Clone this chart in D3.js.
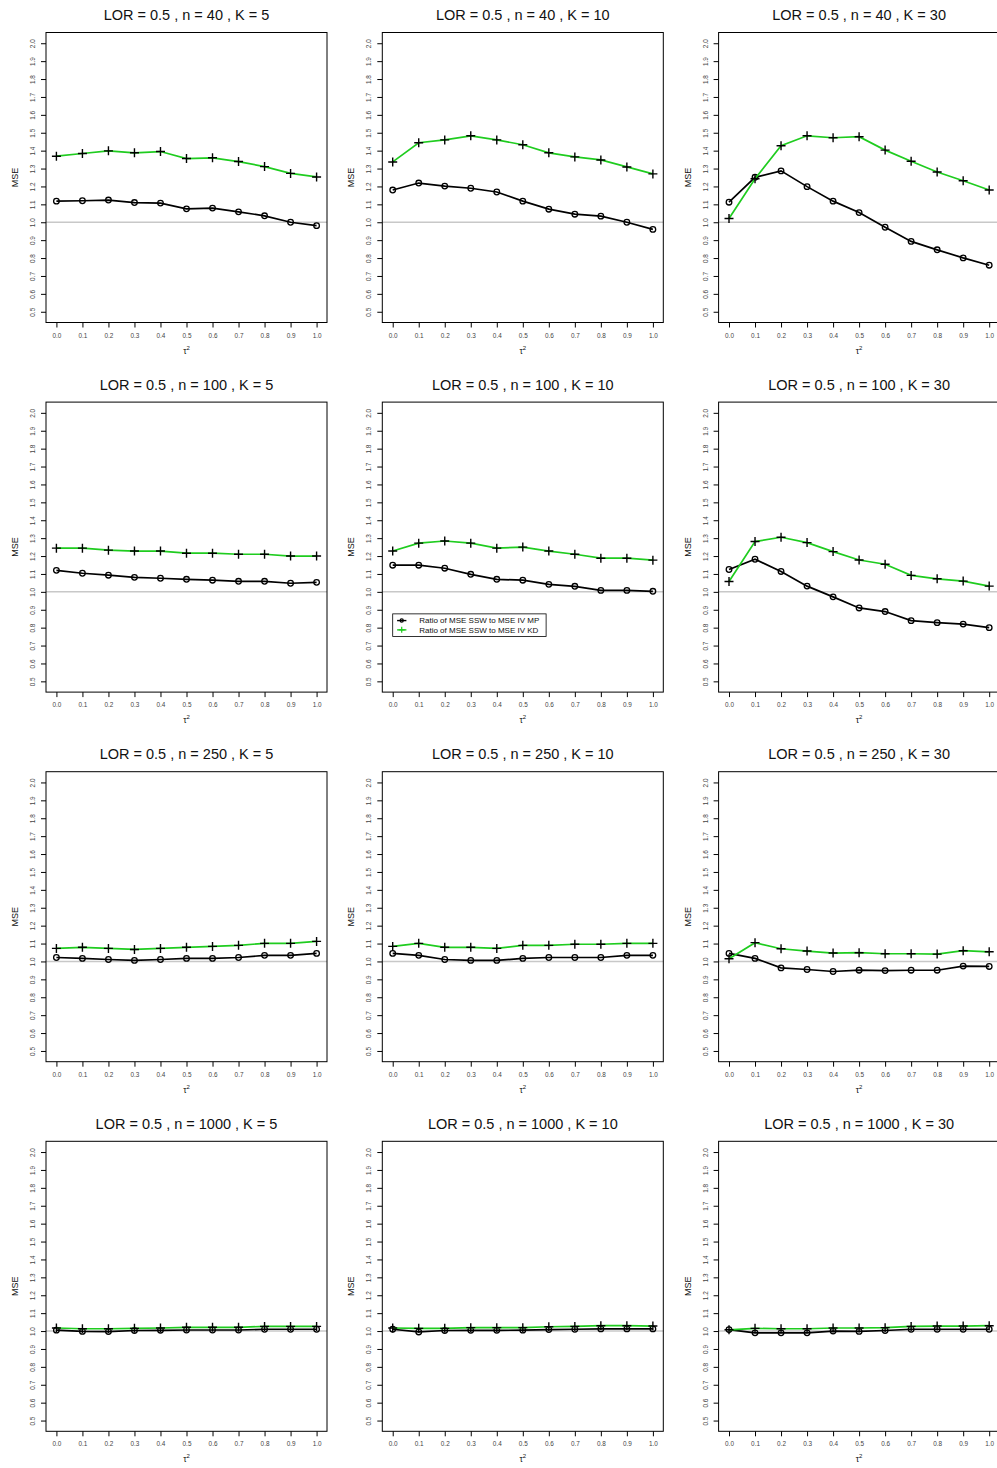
<!DOCTYPE html>
<html>
<head>
<meta charset="utf-8">
<script src="https://cdn.jsdelivr.net/npm/d3@7"></script>
<style>
  body { margin: 0; background: #fff; }
  text { font-family: "Liberation Sans", Arial, Helvetica, sans-serif; }
</style>
</head>
<body>
<script>
// tau^2 grid and the panel settings
var tau = [0.0, 0.1, 0.2, 0.3, 0.4, 0.5, 0.6, 0.7, 0.8, 0.9, 1.0];
var nValues = [40, 100, 250, 1000];
var kValues = [5, 10, 30];
var lorValue = 0.5;
var yTicks = [0.5, 0.6, 0.7, 0.8, 0.9, 1.0, 1.1, 1.2, 1.3, 1.4, 1.5, 1.6, 1.7, 1.8, 1.9, 2.0];
var legendLabels = ["Ratio of MSE SSW to MSE IV MP", "Ratio of MSE SSW to MSE IV KD"];

// ratio MSE SSW / MSE IV MP  (one row per K = 5, 10, 30)
var mp_n40 = [
  [1.118, 1.120, 1.124, 1.110, 1.107, 1.075, 1.079, 1.058, 1.036, 1.000, 0.981],
  [1.180, 1.219, 1.202, 1.190, 1.169, 1.118, 1.073, 1.045, 1.034, 1.000, 0.960],
  [1.112, 1.251, 1.287, 1.199, 1.118, 1.054, 0.972, 0.893, 0.846, 0.801, 0.760]
];
var mp_n100 = [
  [1.120, 1.104, 1.093, 1.081, 1.076, 1.070, 1.065, 1.059, 1.059, 1.048, 1.053],
  [1.149, 1.149, 1.132, 1.098, 1.070, 1.065, 1.042, 1.031, 1.008, 1.008, 1.003],
  [1.125, 1.182, 1.114, 1.032, 0.972, 0.910, 0.890, 0.839, 0.828, 0.820, 0.800]
];
var mp_n250 = [
  [1.022, 1.017, 1.011, 1.006, 1.011, 1.017, 1.017, 1.022, 1.034, 1.034, 1.045],
  [1.045, 1.034, 1.011, 1.006, 1.006, 1.017, 1.022, 1.022, 1.022, 1.034, 1.034],
  [1.045, 1.017, 0.964, 0.955, 0.944, 0.951, 0.949, 0.951, 0.951, 0.974, 0.972]
];
var mp_n1000 = [
  [1.005, 0.998, 0.997, 1.003, 1.004, 1.006, 1.006, 1.006, 1.010, 1.010, 1.010],
  [1.010, 0.995, 1.003, 1.004, 1.004, 1.005, 1.008, 1.010, 1.012, 1.012, 1.012],
  [1.008, 0.990, 0.990, 0.990, 1.000, 0.998, 1.003, 1.010, 1.010, 1.010, 1.010]
];

// ratio MSE SSW / MSE IV KD
var kd_n40 = [
  [1.369, 1.384, 1.399, 1.388, 1.395, 1.356, 1.360, 1.339, 1.311, 1.273, 1.253],
  [1.337, 1.444, 1.460, 1.483, 1.460, 1.433, 1.388, 1.365, 1.348, 1.309, 1.270],
  [1.021, 1.243, 1.427, 1.483, 1.472, 1.478, 1.403, 1.341, 1.281, 1.232, 1.180]
];
var kd_n100 = [
  [1.244, 1.244, 1.233, 1.228, 1.228, 1.216, 1.216, 1.210, 1.210, 1.200, 1.200],
  [1.228, 1.272, 1.284, 1.272, 1.244, 1.250, 1.228, 1.210, 1.188, 1.188, 1.177],
  [1.058, 1.281, 1.305, 1.275, 1.225, 1.178, 1.154, 1.092, 1.073, 1.060, 1.032]
];
var kd_n250 = [
  [1.073, 1.079, 1.073, 1.067, 1.073, 1.079, 1.084, 1.090, 1.101, 1.101, 1.112],
  [1.084, 1.101, 1.079, 1.079, 1.073, 1.090, 1.090, 1.096, 1.096, 1.101, 1.101],
  [1.015, 1.105, 1.071, 1.058, 1.047, 1.049, 1.043, 1.043, 1.041, 1.060, 1.054]
];
var kd_n1000 = [
  [1.017, 1.013, 1.013, 1.015, 1.017, 1.021, 1.021, 1.021, 1.026, 1.026, 1.026],
  [1.017, 1.015, 1.015, 1.019, 1.019, 1.019, 1.024, 1.026, 1.030, 1.030, 1.028],
  [1.007, 1.015, 1.013, 1.013, 1.017, 1.017, 1.019, 1.026, 1.028, 1.028, 1.030]
];

var mpRows = [mp_n40, mp_n100, mp_n250, mp_n1000];
var kdRows = [kd_n40, kd_n100, kd_n250, kd_n1000];

var green = "#1fcc1f";

// layout (pixels)
var boxW = 281, boxH = 290;
var left0 = 46, top0 = 32.5, colStep = 336.3, rowStep = 369.6;

var svg = d3.select("body").append("svg")
    .attr("width", 997)
    .attr("height", 1468);

function drawPlus(g, cx, cy, col) {
    var a = 4.5;
    g.append("path")
        .attr("d", "M" + (cx - a) + "," + cy + "H" + (cx + a) + "M" + cx + "," + (cy - a) + "V" + (cy + a))
        .attr("stroke", col)
        .attr("stroke-width", 1.4)
        .attr("fill", "none");
}

function drawCircle(g, cx, cy, col) {
    g.append("circle")
        .attr("cx", cx).attr("cy", cy).attr("r", 2.8)
        .attr("stroke", col)
        .attr("stroke-width", 1.3)
        .attr("fill", "none");
}

nValues.forEach(function (n, r) {
    kValues.forEach(function (k, c) {
        var bx = left0 + c * colStep,
            by = top0 + r * rowStep;
        var g = svg.append("g");

        var x = d3.scaleLinear().domain([-0.04, 1.04]).range([bx, bx + boxW]);
        var y = d3.scaleLinear().domain([0.44, 2.06]).range([by + boxH, by]);

        // title
        g.append("text")
            .attr("x", bx + boxW / 2)
            .attr("y", by - 12.5)
            .attr("text-anchor", "middle")
            .attr("font-size", "14.5px")
            .attr("fill", "#111")
            .text("LOR = " + lorValue + " , n = " + n + " , K = " + k);

        // y axis, labels parallel to axis
        var ya = g.append("g")
            .attr("transform", "translate(" + bx + ",0)")
            .call(d3.axisLeft(y).tickValues(yTicks).tickSize(5).tickFormat(d3.format(".1f")));
        ya.select(".domain").remove();
        ya.selectAll("text")
            .attr("x", null).attr("dy", null)
            .attr("transform", "translate(-11,0) rotate(-90)")
            .attr("text-anchor", "middle")
            .attr("font-size", "6.4px")
            .attr("fill", "#444");

        // x axis
        var xa = g.append("g")
            .attr("transform", "translate(0," + (by + boxH) + ")")
            .call(d3.axisBottom(x).tickValues(tau).tickSize(5).tickFormat(d3.format(".1f")));
        xa.select(".domain").remove();
        xa.selectAll("text")
            .attr("y", 10.5)
            .attr("font-size", "6.4px")
            .attr("fill", "#444");

        // axis titles
        g.append("text")
            .attr("transform", "translate(" + (bx - 28) + "," + (by + boxH / 2) + ") rotate(-90)")
            .attr("text-anchor", "middle")
            .attr("font-size", "9px")
            .attr("fill", "#111")
            .text("MSE");
        var tl = g.append("text")
            .attr("x", bx + boxW / 2)
            .attr("y", by + boxH + 31)
            .attr("text-anchor", "middle")
            .attr("font-size", "8.5px")
            .attr("fill", "#111");
        tl.append("tspan").text("\u03C4");
        tl.append("tspan").attr("dy", "-4").attr("font-size", "6px").text("2");

        // reference line at 1
        g.append("line")
            .attr("x1", bx).attr("x2", bx + boxW)
            .attr("y1", y(1)).attr("y2", y(1))
            .attr("stroke", "#c8c8c8")
            .attr("stroke-width", 1.5);

        var mp = mpRows[r][c], kd = kdRows[r][c];
        var line = d3.line()
            .x(function (d, i) { return x(tau[i]); })
            .y(function (d) { return y(d); });

        g.append("path").attr("d", line(mp))
            .attr("fill", "none").attr("stroke", "#000").attr("stroke-width", 1.7);
        mp.forEach(function (v, i) { drawCircle(g, x(tau[i]), y(v), "#000"); });

        g.append("path").attr("d", line(kd))
            .attr("fill", "none").attr("stroke", green).attr("stroke-width", 1.7);
        kd.forEach(function (v, i) { drawPlus(g, x(tau[i]), y(v), "#000"); });

        // box
        g.append("rect")
            .attr("x", bx).attr("y", by)
            .attr("width", boxW).attr("height", boxH)
            .attr("fill", "none").attr("stroke", "#000").attr("stroke-width", 1);

        // legend only in the n = 100, K = 10 panel
        if (r === 1 && c === 1) {
            var lx = x(0), ly = y(0.877);
            var lg = g.append("g");
            lg.append("rect")
                .attr("x", lx).attr("y", ly)
                .attr("width", 153.4).attr("height", 22.7)
                .attr("fill", "#fff").attr("stroke", "#000").attr("stroke-width", 0.8);
            legendLabels.forEach(function (lab, i) {
                var yy = ly + 6.7 + i * 9.3;
                var col = i === 0 ? "#000" : green;
                lg.append("line")
                    .attr("x1", lx + 4.4).attr("x2", lx + 13.7)
                    .attr("y1", yy).attr("y2", yy)
                    .attr("stroke", col).attr("stroke-width", 1.4);
                if (i === 0) {
                    lg.append("circle").attr("cx", lx + 9).attr("cy", yy).attr("r", 1.6)
                        .attr("fill", "none").attr("stroke", col).attr("stroke-width", 1.2);
                } else {
                    lg.append("path")
                        .attr("d", "M" + (lx + 6) + "," + yy + "H" + (lx + 12) + "M" + (lx + 9) + "," + (yy - 3) + "V" + (yy + 3))
                        .attr("stroke", col).attr("stroke-width", 1.2);
                }
                lg.append("text")
                    .attr("x", lx + 26.5)
                    .attr("y", yy + 2.7)
                    .attr("font-size", "8px")
                    .attr("fill", "#111")
                    .text(lab);
            });
        }
    });
});
</script>
</body>
</html>
